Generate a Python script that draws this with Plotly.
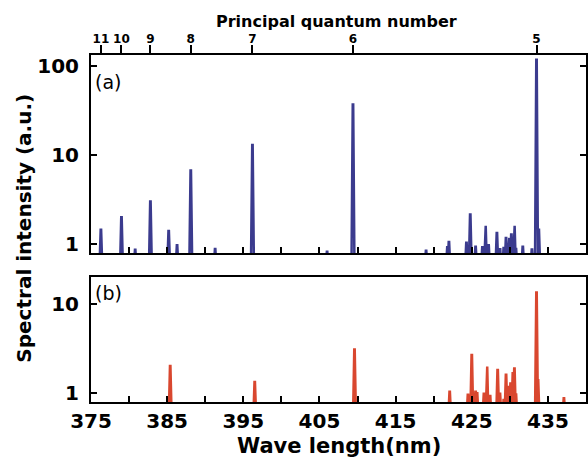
import plotly.graph_objects as go

# ---- data ----
peak_wl_a = [376.3, 379.0, 380.8, 382.8, 385.2, 386.3, 388.1, 391.3, 396.2, 406.0,
             409.4, 419.0, 421.8, 422.0, 424.3, 424.8, 425.5, 426.4, 426.8, 427.2,
             428.3, 428.7, 429.2, 429.5, 429.9, 430.2, 430.6, 430.8, 431.7, 432.9,
             433.5, 433.8]
peak_int_a = [1.45, 2.0, 0.86, 3.0, 1.4, 0.97, 6.7, 0.88, 13.0, 0.82,
              37.0, 0.84, 0.92, 1.05, 1.03, 2.15, 0.93, 0.92, 1.6, 1.0,
              1.33, 0.9, 0.9, 1.17, 1.17, 1.28, 1.6, 0.88, 0.93, 0.87,
              118.0, 1.45]

peak_wl_b = [385.4, 396.5, 409.6, 422.1, 424.5, 425.0, 425.5, 425.7, 426.6, 427.0,
             427.4, 428.4, 428.7, 429.2, 429.5, 429.8, 430.1, 430.4, 430.6, 430.8,
             433.5, 433.7, 437.1]
peak_int_b = [2.03, 1.34, 3.1, 1.04, 0.96, 2.7, 1.04, 1.0, 0.99, 2.0,
              0.96, 1.83, 0.99, 0.84, 1.62, 1.18, 1.29, 1.68, 1.9, 0.97,
              13.6, 1.4, 0.88]

n_labels = ['11', '10', '9', '8', '7', '6', '5']
n_wl = [376.3, 379.0, 382.8, 388.1, 396.2, 409.4, 433.5]

x_ticks = [375, 380, 385, 390, 395, 400, 405, 410, 415, 420, 425, 430, 435]
x_ticklabels = ['375', '', '385', '', '395', '', '405', '', '415', '', '425', '', '435']

baseline = 0.5
half = 0.2


def spikes(wl, inten):
    xs = [375.0]
    ys = [baseline]
    for c, h in zip(wl, inten):
        xs += [c - half, c - 0.03, c + 0.03, c + half]
        ys += [baseline, h, h, baseline]
    xs.append(440.0)
    ys.append(baseline)
    return xs, ys


xa, ya = spikes(peak_wl_a, peak_int_a)
xb, yb = spikes(peak_wl_b, peak_int_b)

FONT = 'DejaVu Sans'
blue = '#3b3b8e'
red = '#d9472f'

fig = go.Figure()
fig.add_trace(go.Scatter(x=xa, y=ya, mode='lines', line=dict(color=blue, width=2.5),
                         xaxis='x', yaxis='y', showlegend=False, hoverinfo='skip'))
fig.add_trace(go.Scatter(x=xb, y=yb, mode='lines', line=dict(color=red, width=2.5),
                         xaxis='x2', yaxis='y2', showlegend=False, hoverinfo='skip'))
fig.add_trace(go.Scatter(x=[380], y=[1], mode='markers', marker=dict(opacity=0),
                         xaxis='x3', yaxis='y', showlegend=False, hoverinfo='skip'))

axis_common = dict(showgrid=False, zeroline=False, showline=True, linewidth=2,
                   linecolor='black', tickcolor='black', tickwidth=2, automargin=False)
tick_font = dict(family=FONT, size=20, weight='bold', color='black')

fig.update_layout(
    width=588, height=462,
    margin=dict(l=91, r=2, t=55, b=60, autoexpand=False),
    paper_bgcolor='white', plot_bgcolor='white',
    font=dict(family=FONT, color='black'),
    xaxis=dict(**axis_common, anchor='y', range=[375, 440], tickvals=x_ticks,
               showticklabels=False, ticks='inside', ticklen=6, mirror=True),
    xaxis3=dict(showgrid=False, zeroline=False, showline=False, overlaying='x',
                anchor='y', side='top', range=[375, 440], tickvals=n_wl,
                ticktext=n_labels, ticks='outside', ticklen=9, tickwidth=2,
                tickcolor='black', automargin=False, ticklabelstandoff=-3,
                tickfont=dict(family=FONT, size=12, weight='bold', color='black')),
    yaxis=dict(**axis_common, domain=[0.4294, 1], type='log', range=[-0.101, 2.124],
               tickvals=[1, 10, 100], ticktext=['1', '10', '100'], ticks='inside',
               ticklen=6, mirror='ticks', ticklabelstandoff=6, tickfont=tick_font),
    xaxis2=dict(**axis_common, anchor='y2', range=[375, 440], tickvals=x_ticks,
                ticktext=x_ticklabels, ticks='inside', ticklen=6, mirror=True,
                tickfont=tick_font),
    yaxis2=dict(**axis_common, domain=[0, 0.3602], type='log', range=[-0.098, 1.307],
                tickvals=[1, 10], ticktext=['1', '10'], ticks='inside', ticklen=6,
                mirror='ticks', ticklabelstandoff=6, tickfont=tick_font),
    annotations=[
        dict(text='Spectral intensity (a.u.)', xref='paper', yref='paper',
             x=-0.137, y=0.5, xanchor='center', yanchor='middle', textangle=-90,
             showarrow=False, font=dict(family=FONT, size=20, weight='bold')),
        dict(text='Wave length(nm)', xref='paper', yref='paper',
             x=0.5, y=-0.128, xanchor='center', yanchor='middle',
             showarrow=False, font=dict(family=FONT, size=21, weight='bold')),
        dict(text='Principal quantum number', xref='paper', yref='paper',
             x=0.495, y=1.097, xanchor='center', yanchor='middle',
             showarrow=False, font=dict(family=FONT, size=16, weight='bold')),
        dict(text='(a)', xref='paper', yref='paper',
             x=0.004, y=1 - (82.5 - 55) / 347, xanchor='left', yanchor='middle',
             showarrow=False, font=dict(family=FONT, size=19)),
        dict(text='(b)', xref='paper', yref='paper',
             x=0.004, y=(402 - 293) / 347, xanchor='left', yanchor='middle',
             showarrow=False, font=dict(family=FONT, size=19)),
    ],
)

fig.write_html('out.html', config={'displayModeBar': False},
               post_script="document.body.style.margin='0';document.body.style.padding='0';")
